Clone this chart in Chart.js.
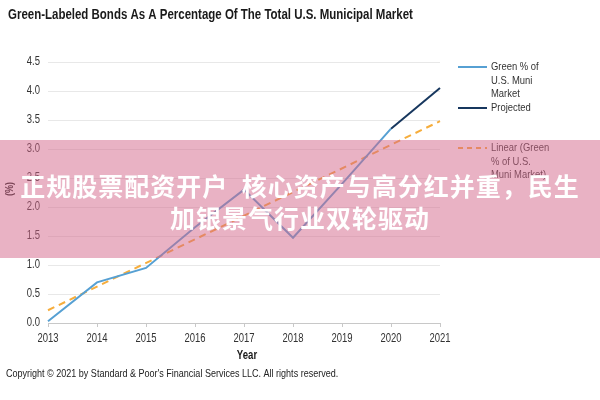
<!DOCTYPE html>
<html>
<head>
<meta charset="utf-8">
<script src="https://cdn.jsdelivr.net/npm/chart.js@4.4.1/dist/chart.umd.min.js"></script>
<style>
  html, body { margin: 0; padding: 0; background: #fff; }
  #wrap { position: relative; width: 600px; height: 400px; }
  #overlay {
    position: absolute; left: 0; top: 140px; width: 600px; height: 118px;
    background: rgba(211, 101, 137, 0.5);
    color: #fff; font-family: "Noto Sans CJK SC", sans-serif; font-weight: 700;
    font-size: 25px; line-height: 32px; text-align: center;
    box-sizing: border-box; padding-top: 29px; letter-spacing: 1px;
  }
</style>
</head>
<body>
<div id="wrap">
  <canvas id="chart" width="600" height="400"></canvas>
  <div id="overlay">正规股票配资开户&nbsp;&nbsp;核心资产与高分红并重，民生<br>加银景气行业双轮驱动</div>
</div>
<script>
const years = ["2013", "2014", "2015", "2016", "2017", "2018", "2019", "2020", "2021"]
const greenShare = [0.03, 0.70, 0.95, 1.65, 2.30, 1.47, 2.40, 3.35, null]
const projected = [null, null, null, null, null, null, null, 3.35, 4.05]
// trend line at its two ends
const linearTrend = [0.22, null, null, null, null, null, null, null, 3.48]
const yTicks = [0, 0.5, 1, 1.5, 2, 2.5, 3, 3.5, 4, 4.5]

const SANS = "'Liberation Sans', Arial, sans-serif"
const BLUE = "#56a0d3"
const NAVY = "#17375e"
const ORANGE = "#f6ad3c"

// condensed text: Liberation Sans squeezed sideways (Arial Narrow look)
function narrowText(ctx, text, x, y, size, bold, align, squeeze) {
    ctx.save()
    ctx.font = (bold ? "bold " : "") + size + "px " + SANS
    ctx.textBaseline = "middle"
    ctx.textAlign = align || "left"
    ctx.translate(x, y)
    ctx.scale(squeeze || 0.82, 1)
    ctx.fillText(text, 0, 0)
    ctx.restore()
}

const textPlugin = {
    id: "texts",
    afterDraw(chart) {
        const ctx = chart.ctx
        const xs = chart.scales.x, ys = chart.scales.y
        ctx.save()
        ctx.fillStyle = "#1a1a1a"
        narrowText(ctx, "Green-Labeled Bonds As A Percentage Of The Total U.S. Municipal Market", 8, 15, 14, true)

        ctx.fillStyle = "#333"
        years.forEach((y, i) => narrowText(ctx, y, xs.getPixelForValue(i), 339, 12, false, "center", 0.79))
        yTicks.forEach(v => narrowText(ctx, v.toFixed(1), 40, ys.getPixelForValue(v), 12, false, "right", 0.79))

        ctx.fillStyle = "#1a1a1a"
        narrowText(ctx, "Year", 247, 356, 12, true, "center", 0.8)
        ctx.save()
        ctx.translate(10, 189)
        ctx.rotate(-Math.PI / 2)
        narrowText(ctx, "(%)", 0, 0, 11, true, "center")
        ctx.restore()

        ctx.fillStyle = "#222"
        narrowText(ctx, "Copyright \u00a9 2021 by Standard & Poor's Financial Services LLC. All rights reserved.", 6, 374, 11, false)

        // legend
        const items = [
            { color: BLUE, dash: [], lines: ["Green % of", "U.S. Muni", "Market"], y: 67 },
            { color: NAVY, dash: [], lines: ["Projected"], y: 108 },
            { color: ORANGE, dash: [5, 4], lines: ["Linear (Green", "% of U.S.", "Muni Market)"], y: 148 },
        ]
        ctx.fillStyle = "#333"
        items.forEach(it => {
            ctx.beginPath()
            ctx.strokeStyle = it.color
            ctx.lineWidth = 2
            ctx.setLineDash(it.dash)
            ctx.moveTo(458, it.y)
            ctx.lineTo(487, it.y)
            ctx.stroke()
            ctx.setLineDash([])
            it.lines.forEach((t, i) => narrowText(ctx, t, 491, it.y + i * 13.5, 11.5, false))
        })
        ctx.restore()
    }
}

new Chart(document.getElementById("chart"), {
    type: "line",
    data: {
        labels: years,
        datasets: [
            { label: "Green % of U.S. Muni Market", data: greenShare, borderColor: BLUE, borderWidth: 2, pointRadius: 0, tension: 0 },
            { label: "Projected", data: projected, borderColor: NAVY, borderWidth: 2, pointRadius: 0, tension: 0 },
            { label: "Linear (Green % of U.S. Muni Market)", data: linearTrend, borderColor: ORANGE, borderWidth: 2, borderDash: [7, 5], pointRadius: 0, spanGaps: true },
        ]
    },
    options: {
        responsive: false,
        animation: false,
        layout: { padding: { top: 62, right: 160, left: 0, bottom: 0 } },
        plugins: { legend: { display: false }, title: { display: false }, tooltip: { enabled: false } },
        scales: {
            x: {
                offset: false,
                grid: { drawOnChartArea: false, drawTicks: true, tickLength: 4, color: "#c8c8c8" },
                border: { color: "#c8c8c8" },
                ticks: { display: false },
                afterFit: s => { s.height = 77 },
            },
            y: {
                min: 0, max: 4.5,
                afterBuildTicks: s => { s.ticks = yTicks.map(v => ({ value: v })) },
                grid: { color: "#e8e8e8", drawTicks: false },
                border: { display: false },
                ticks: { display: false },
                afterFit: s => { s.width = 48 },
            }
        }
    },
    plugins: [textPlugin]
})
</script>
</body>
</html>
